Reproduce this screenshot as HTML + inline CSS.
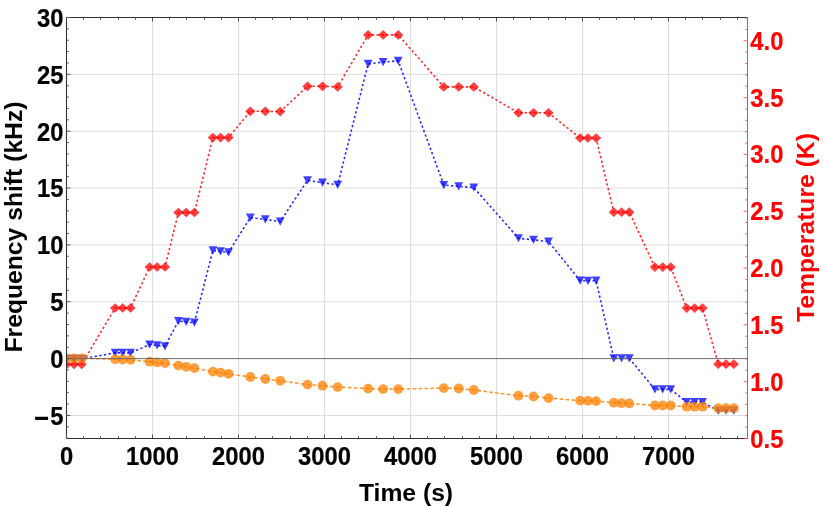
<!DOCTYPE html><html><head><meta charset="utf-8"><style>html,body{margin:0;padding:0;background:#fff}svg{display:block}text{font-family:"Liberation Sans",sans-serif;font-weight:bold}</style></head><body>
<svg width="830" height="506" viewBox="0 0 830 506">
<rect width="830" height="506" fill="#fff"/>
<path d="M152.50 17.5V438.5M238.50 17.5V438.5M324.50 17.5V438.5M410.50 17.5V438.5M496.50 17.5V438.5M582.50 17.5V438.5M668.50 17.5V438.5M66.5 415.45H747.5M66.5 301.75H747.5M66.5 244.90H747.5M66.5 188.05H747.5M66.5 131.20H747.5M66.5 74.35H747.5" stroke="#dedede" stroke-width="1" fill="none"/>
<clipPath id="cp"><rect x="66.5" y="17.5" width="681.0" height="421.0"/></clipPath><g clip-path="url(#cp)">
<path d="M66.60 364.30L74.10 364.30L81.70 364.30L115.10 308.00L122.60 308.00L130.50 308.00L149.60 267.00L157.10 267.00L165.00 267.00L178.40 212.50L186.20 212.50L194.40 212.50L212.90 137.60L220.50 137.60L228.50 137.60L250.30 111.30L265.30 111.30L280.20 111.60L307.50 86.30L322.50 86.30L337.70 86.90L368.10 34.90L383.10 34.90L398.20 34.90L443.80 86.90L458.70 86.90L473.80 86.90L518.50 112.80L533.50 112.80L548.50 112.80L580.10 138.00L587.90 138.00L596.10 138.00L613.80 212.20L621.60 212.20L629.30 212.20L654.90 267.10L662.70 267.10L670.70 267.10L686.70 308.10L694.60 308.10L702.50 308.10L718.30 364.20L726.00 364.20L733.80 364.20" stroke="#ff2a2a" stroke-width="1.6" stroke-dasharray="2.3 2.4" fill="none" stroke-linejoin="round"/>
<g fill="#ff0000" fill-opacity="0.75">
<path d="M61.45 364.30L66.60 359.45L71.75 364.30L66.60 369.15Z"/>
<path d="M68.95 364.30L74.10 359.45L79.25 364.30L74.10 369.15Z"/>
<path d="M76.55 364.30L81.70 359.45L86.85 364.30L81.70 369.15Z"/>
<path d="M109.95 308.00L115.10 303.15L120.25 308.00L115.10 312.85Z"/>
<path d="M117.45 308.00L122.60 303.15L127.75 308.00L122.60 312.85Z"/>
<path d="M125.35 308.00L130.50 303.15L135.65 308.00L130.50 312.85Z"/>
<path d="M144.45 267.00L149.60 262.15L154.75 267.00L149.60 271.85Z"/>
<path d="M151.95 267.00L157.10 262.15L162.25 267.00L157.10 271.85Z"/>
<path d="M159.85 267.00L165.00 262.15L170.15 267.00L165.00 271.85Z"/>
<path d="M173.25 212.50L178.40 207.65L183.55 212.50L178.40 217.35Z"/>
<path d="M181.05 212.50L186.20 207.65L191.35 212.50L186.20 217.35Z"/>
<path d="M189.25 212.50L194.40 207.65L199.55 212.50L194.40 217.35Z"/>
<path d="M207.75 137.60L212.90 132.75L218.05 137.60L212.90 142.45Z"/>
<path d="M215.35 137.60L220.50 132.75L225.65 137.60L220.50 142.45Z"/>
<path d="M223.35 137.60L228.50 132.75L233.65 137.60L228.50 142.45Z"/>
<path d="M245.15 111.30L250.30 106.45L255.45 111.30L250.30 116.15Z"/>
<path d="M260.15 111.30L265.30 106.45L270.45 111.30L265.30 116.15Z"/>
<path d="M275.05 111.60L280.20 106.75L285.35 111.60L280.20 116.45Z"/>
<path d="M302.35 86.30L307.50 81.45L312.65 86.30L307.50 91.15Z"/>
<path d="M317.35 86.30L322.50 81.45L327.65 86.30L322.50 91.15Z"/>
<path d="M332.55 86.90L337.70 82.05L342.85 86.90L337.70 91.75Z"/>
<path d="M362.95 34.90L368.10 30.05L373.25 34.90L368.10 39.75Z"/>
<path d="M377.95 34.90L383.10 30.05L388.25 34.90L383.10 39.75Z"/>
<path d="M393.05 34.90L398.20 30.05L403.35 34.90L398.20 39.75Z"/>
<path d="M438.65 86.90L443.80 82.05L448.95 86.90L443.80 91.75Z"/>
<path d="M453.55 86.90L458.70 82.05L463.85 86.90L458.70 91.75Z"/>
<path d="M468.65 86.90L473.80 82.05L478.95 86.90L473.80 91.75Z"/>
<path d="M513.35 112.80L518.50 107.95L523.65 112.80L518.50 117.65Z"/>
<path d="M528.35 112.80L533.50 107.95L538.65 112.80L533.50 117.65Z"/>
<path d="M543.35 112.80L548.50 107.95L553.65 112.80L548.50 117.65Z"/>
<path d="M574.95 138.00L580.10 133.15L585.25 138.00L580.10 142.85Z"/>
<path d="M582.75 138.00L587.90 133.15L593.05 138.00L587.90 142.85Z"/>
<path d="M590.95 138.00L596.10 133.15L601.25 138.00L596.10 142.85Z"/>
<path d="M608.65 212.20L613.80 207.35L618.95 212.20L613.80 217.05Z"/>
<path d="M616.45 212.20L621.60 207.35L626.75 212.20L621.60 217.05Z"/>
<path d="M624.15 212.20L629.30 207.35L634.45 212.20L629.30 217.05Z"/>
<path d="M649.75 267.10L654.90 262.25L660.05 267.10L654.90 271.95Z"/>
<path d="M657.55 267.10L662.70 262.25L667.85 267.10L662.70 271.95Z"/>
<path d="M665.55 267.10L670.70 262.25L675.85 267.10L670.70 271.95Z"/>
<path d="M681.55 308.10L686.70 303.25L691.85 308.10L686.70 312.95Z"/>
<path d="M689.45 308.10L694.60 303.25L699.75 308.10L694.60 312.95Z"/>
<path d="M697.35 308.10L702.50 303.25L707.65 308.10L702.50 312.95Z"/>
<path d="M713.15 364.20L718.30 359.35L723.45 364.20L718.30 369.05Z"/>
<path d="M720.85 364.20L726.00 359.35L731.15 364.20L726.00 369.05Z"/>
<path d="M728.65 364.20L733.80 359.35L738.95 364.20L733.80 369.05Z"/>
</g>
<path d="M66.60 358.80L74.10 358.80L81.70 358.80L115.10 352.85L122.60 352.85L130.50 352.95L149.60 344.55L157.10 345.45L165.00 346.35L178.40 321.05L186.20 321.95L194.40 322.65L212.90 250.45L220.50 251.45L228.50 252.45L250.30 217.55L265.30 219.45L280.20 221.55L307.50 180.35L322.50 182.65L337.70 184.85L368.10 63.95L383.10 62.05L398.20 60.85L443.80 185.05L458.70 186.35L473.80 187.65L518.50 238.25L533.50 239.85L548.50 241.55L580.10 280.65L587.90 280.85L596.10 280.65L613.80 358.35L621.60 358.45L629.30 358.35L654.90 389.35L662.70 389.35L670.70 389.35L686.70 402.15L694.60 402.15L702.50 402.15L718.30 410.65L726.00 410.65L733.80 410.65" stroke="#2a2aff" stroke-width="1.6" stroke-dasharray="2.3 2.4" fill="none" stroke-linejoin="round"/>
<g fill="#0000ff" fill-opacity="0.75">
<path d="M62.20 354.70L71.00 354.70L66.60 362.90Z"/>
<path d="M69.70 354.70L78.50 354.70L74.10 362.90Z"/>
<path d="M77.30 354.70L86.10 354.70L81.70 362.90Z"/>
<path d="M110.70 348.75L119.50 348.75L115.10 356.95Z"/>
<path d="M118.20 348.75L127.00 348.75L122.60 356.95Z"/>
<path d="M126.10 348.85L134.90 348.85L130.50 357.05Z"/>
<path d="M145.20 340.45L154.00 340.45L149.60 348.65Z"/>
<path d="M152.70 341.35L161.50 341.35L157.10 349.55Z"/>
<path d="M160.60 342.25L169.40 342.25L165.00 350.45Z"/>
<path d="M174.00 316.95L182.80 316.95L178.40 325.15Z"/>
<path d="M181.80 317.85L190.60 317.85L186.20 326.05Z"/>
<path d="M190.00 318.55L198.80 318.55L194.40 326.75Z"/>
<path d="M208.50 246.35L217.30 246.35L212.90 254.55Z"/>
<path d="M216.10 247.35L224.90 247.35L220.50 255.55Z"/>
<path d="M224.10 248.35L232.90 248.35L228.50 256.55Z"/>
<path d="M245.90 213.45L254.70 213.45L250.30 221.65Z"/>
<path d="M260.90 215.35L269.70 215.35L265.30 223.55Z"/>
<path d="M275.80 217.45L284.60 217.45L280.20 225.65Z"/>
<path d="M303.10 176.25L311.90 176.25L307.50 184.45Z"/>
<path d="M318.10 178.55L326.90 178.55L322.50 186.75Z"/>
<path d="M333.30 180.75L342.10 180.75L337.70 188.95Z"/>
<path d="M363.70 59.85L372.50 59.85L368.10 68.05Z"/>
<path d="M378.70 57.95L387.50 57.95L383.10 66.15Z"/>
<path d="M393.80 56.75L402.60 56.75L398.20 64.95Z"/>
<path d="M439.40 180.95L448.20 180.95L443.80 189.15Z"/>
<path d="M454.30 182.25L463.10 182.25L458.70 190.45Z"/>
<path d="M469.40 183.55L478.20 183.55L473.80 191.75Z"/>
<path d="M514.10 234.15L522.90 234.15L518.50 242.35Z"/>
<path d="M529.10 235.75L537.90 235.75L533.50 243.95Z"/>
<path d="M544.10 237.45L552.90 237.45L548.50 245.65Z"/>
<path d="M575.70 276.55L584.50 276.55L580.10 284.75Z"/>
<path d="M583.50 276.75L592.30 276.75L587.90 284.95Z"/>
<path d="M591.70 276.55L600.50 276.55L596.10 284.75Z"/>
<path d="M609.40 354.25L618.20 354.25L613.80 362.45Z"/>
<path d="M617.20 354.35L626.00 354.35L621.60 362.55Z"/>
<path d="M624.90 354.25L633.70 354.25L629.30 362.45Z"/>
<path d="M650.50 385.25L659.30 385.25L654.90 393.45Z"/>
<path d="M658.30 385.25L667.10 385.25L662.70 393.45Z"/>
<path d="M666.30 385.25L675.10 385.25L670.70 393.45Z"/>
<path d="M682.30 398.05L691.10 398.05L686.70 406.25Z"/>
<path d="M690.20 398.05L699.00 398.05L694.60 406.25Z"/>
<path d="M698.10 398.05L706.90 398.05L702.50 406.25Z"/>
<path d="M713.90 406.55L722.70 406.55L718.30 414.75Z"/>
<path d="M721.60 406.55L730.40 406.55L726.00 414.75Z"/>
<path d="M729.40 406.55L738.20 406.55L733.80 414.75Z"/>
</g>
<path d="M66.60 358.40L74.10 358.40L81.70 358.40L115.10 359.20L122.60 359.50L130.50 359.80L149.60 361.70L157.10 362.40L165.00 363.10L178.40 365.60L186.20 366.80L194.40 368.10L212.90 371.60L220.50 372.60L228.50 373.80L250.30 377.00L265.30 379.00L280.20 380.80L307.50 384.60L322.50 385.70L337.70 387.10L368.10 388.60L383.10 389.10L398.20 389.10L443.80 388.10L458.70 388.50L473.80 390.00L518.50 395.70L533.50 396.50L548.50 398.10L580.10 400.60L587.90 400.90L596.10 401.10L613.80 402.70L621.60 403.20L629.30 403.50L654.90 405.50L662.70 405.50L670.70 405.50L686.70 406.70L694.60 406.70L702.50 406.70L718.30 408.20L726.00 408.20L733.80 408.20" stroke="#ff9326" stroke-width="1.5" stroke-dasharray="3.6 2.3" fill="none" stroke-linejoin="round"/>
<g fill="#ff8000" fill-opacity="0.75">
<circle cx="66.60" cy="358.40" r="4.9"/>
<circle cx="74.10" cy="358.40" r="4.9"/>
<circle cx="81.70" cy="358.40" r="4.9"/>
<circle cx="115.10" cy="359.20" r="4.9"/>
<circle cx="122.60" cy="359.50" r="4.9"/>
<circle cx="130.50" cy="359.80" r="4.9"/>
<circle cx="149.60" cy="361.70" r="4.9"/>
<circle cx="157.10" cy="362.40" r="4.9"/>
<circle cx="165.00" cy="363.10" r="4.9"/>
<circle cx="178.40" cy="365.60" r="4.9"/>
<circle cx="186.20" cy="366.80" r="4.9"/>
<circle cx="194.40" cy="368.10" r="4.9"/>
<circle cx="212.90" cy="371.60" r="4.9"/>
<circle cx="220.50" cy="372.60" r="4.9"/>
<circle cx="228.50" cy="373.80" r="4.9"/>
<circle cx="250.30" cy="377.00" r="4.9"/>
<circle cx="265.30" cy="379.00" r="4.9"/>
<circle cx="280.20" cy="380.80" r="4.9"/>
<circle cx="307.50" cy="384.60" r="4.9"/>
<circle cx="322.50" cy="385.70" r="4.9"/>
<circle cx="337.70" cy="387.10" r="4.9"/>
<circle cx="368.10" cy="388.60" r="4.9"/>
<circle cx="383.10" cy="389.10" r="4.9"/>
<circle cx="398.20" cy="389.10" r="4.9"/>
<circle cx="443.80" cy="388.10" r="4.9"/>
<circle cx="458.70" cy="388.50" r="4.9"/>
<circle cx="473.80" cy="390.00" r="4.9"/>
<circle cx="518.50" cy="395.70" r="4.9"/>
<circle cx="533.50" cy="396.50" r="4.9"/>
<circle cx="548.50" cy="398.10" r="4.9"/>
<circle cx="580.10" cy="400.60" r="4.9"/>
<circle cx="587.90" cy="400.90" r="4.9"/>
<circle cx="596.10" cy="401.10" r="4.9"/>
<circle cx="613.80" cy="402.70" r="4.9"/>
<circle cx="621.60" cy="403.20" r="4.9"/>
<circle cx="629.30" cy="403.50" r="4.9"/>
<circle cx="654.90" cy="405.50" r="4.9"/>
<circle cx="662.70" cy="405.50" r="4.9"/>
<circle cx="670.70" cy="405.50" r="4.9"/>
<circle cx="686.70" cy="406.70" r="4.9"/>
<circle cx="694.60" cy="406.70" r="4.9"/>
<circle cx="702.50" cy="406.70" r="4.9"/>
<circle cx="718.30" cy="408.20" r="4.9"/>
<circle cx="726.00" cy="408.20" r="4.9"/>
<circle cx="733.80" cy="408.20" r="4.9"/>
</g>
</g>
<path d="M66.5 358.60H747.5" stroke="#666" stroke-width="0.95" fill="none"/>
<path d="M66.5 438.5V17.5H747.5" stroke="#333" stroke-width="1.1" fill="none"/>
<path d="M66.5 438.5H747.5" stroke="#333" stroke-width="1.1" fill="none"/>
<path d="M747.5 17.5V438.5" stroke="#ff4040" stroke-width="1" fill="none"/>
<path d="M66.50 438.5v-4M66.50 17.5v4M83.50 438.5v-2.3M83.50 17.5v2.3M100.50 438.5v-2.3M100.50 17.5v2.3M118.50 438.5v-2.3M118.50 17.5v2.3M135.50 438.5v-2.3M135.50 17.5v2.3M152.50 438.5v-4M152.50 17.5v4M169.50 438.5v-2.3M169.50 17.5v2.3M186.50 438.5v-2.3M186.50 17.5v2.3M204.50 438.5v-2.3M204.50 17.5v2.3M221.50 438.5v-2.3M221.50 17.5v2.3M238.50 438.5v-4M238.50 17.5v4M255.50 438.5v-2.3M255.50 17.5v2.3M272.50 438.5v-2.3M272.50 17.5v2.3M290.50 438.5v-2.3M290.50 17.5v2.3M307.50 438.5v-2.3M307.50 17.5v2.3M324.50 438.5v-4M324.50 17.5v4M341.50 438.5v-2.3M341.50 17.5v2.3M358.50 438.5v-2.3M358.50 17.5v2.3M376.50 438.5v-2.3M376.50 17.5v2.3M393.50 438.5v-2.3M393.50 17.5v2.3M410.50 438.5v-4M410.50 17.5v4M427.50 438.5v-2.3M427.50 17.5v2.3M444.50 438.5v-2.3M444.50 17.5v2.3M462.50 438.5v-2.3M462.50 17.5v2.3M479.50 438.5v-2.3M479.50 17.5v2.3M496.50 438.5v-4M496.50 17.5v4M513.50 438.5v-2.3M513.50 17.5v2.3M530.50 438.5v-2.3M530.50 17.5v2.3M548.50 438.5v-2.3M548.50 17.5v2.3M565.50 438.5v-2.3M565.50 17.5v2.3M582.50 438.5v-4M582.50 17.5v4M599.50 438.5v-2.3M599.50 17.5v2.3M616.50 438.5v-2.3M616.50 17.5v2.3M634.50 438.5v-2.3M634.50 17.5v2.3M651.50 438.5v-2.3M651.50 17.5v2.3M668.50 438.5v-4M668.50 17.5v4M685.50 438.5v-2.3M685.50 17.5v2.3M702.50 438.5v-2.3M702.50 17.5v2.3M720.50 438.5v-2.3M720.50 17.5v2.3M737.50 438.5v-2.3M737.50 17.5v2.3M66.5 438.19h2.3M66.5 426.82h2.3M66.5 415.45h4M66.5 404.08h2.3M66.5 392.71h2.3M66.5 381.34h2.3M66.5 369.97h2.3M66.5 358.60h4M66.5 347.23h2.3M66.5 335.86h2.3M66.5 324.49h2.3M66.5 313.12h2.3M66.5 301.75h4M66.5 290.38h2.3M66.5 279.01h2.3M66.5 267.64h2.3M66.5 256.27h2.3M66.5 244.90h4M66.5 233.53h2.3M66.5 222.16h2.3M66.5 210.79h2.3M66.5 199.42h2.3M66.5 188.05h4M66.5 176.68h2.3M66.5 165.31h2.3M66.5 153.94h2.3M66.5 142.57h2.3M66.5 131.20h4M66.5 119.83h2.3M66.5 108.46h2.3M66.5 97.09h2.3M66.5 85.72h2.3M66.5 74.35h4M66.5 62.98h2.3M66.5 51.61h2.3M66.5 40.24h2.3M66.5 28.87h2.3M66.5 17.50h4" stroke="#555" stroke-width="1" fill="none"/>
<path d="M747.5 438.50h-4M747.5 427.14h-2.3M747.5 415.77h-2.3M747.5 404.41h-2.3M747.5 393.05h-2.3M747.5 381.69h-4M747.5 370.32h-2.3M747.5 358.96h-2.3M747.5 347.60h-2.3M747.5 336.23h-2.3M747.5 324.87h-4M747.5 313.51h-2.3M747.5 302.14h-2.3M747.5 290.78h-2.3M747.5 279.42h-2.3M747.5 268.05h-4M747.5 256.69h-2.3M747.5 245.33h-2.3M747.5 233.97h-2.3M747.5 222.60h-2.3M747.5 211.24h-4M747.5 199.88h-2.3M747.5 188.51h-2.3M747.5 177.15h-2.3M747.5 165.79h-2.3M747.5 154.42h-4M747.5 143.06h-2.3M747.5 131.70h-2.3M747.5 120.34h-2.3M747.5 108.97h-2.3M747.5 97.61h-4M747.5 86.25h-2.3M747.5 74.88h-2.3M747.5 63.52h-2.3M747.5 52.16h-2.3M747.5 40.79h-4M747.5 29.43h-2.3M747.5 18.07h-2.3" stroke="#ff4040" stroke-width="0.8" fill="none"/>
<g opacity="0.995">
<text transform="translate(66.50,465.20) scale(0.93,1)" font-size="25.6" text-anchor="middle" fill="#000" stroke="#000" stroke-width="0.25">0</text>
<text transform="translate(152.50,465.20) scale(0.93,1)" font-size="25.6" text-anchor="middle" fill="#000" stroke="#000" stroke-width="0.25">1000</text>
<text transform="translate(238.50,465.20) scale(0.93,1)" font-size="25.6" text-anchor="middle" fill="#000" stroke="#000" stroke-width="0.25">2000</text>
<text transform="translate(324.50,465.20) scale(0.93,1)" font-size="25.6" text-anchor="middle" fill="#000" stroke="#000" stroke-width="0.25">3000</text>
<text transform="translate(410.50,465.20) scale(0.93,1)" font-size="25.6" text-anchor="middle" fill="#000" stroke="#000" stroke-width="0.25">4000</text>
<text transform="translate(496.50,465.20) scale(0.93,1)" font-size="25.6" text-anchor="middle" fill="#000" stroke="#000" stroke-width="0.25">5000</text>
<text transform="translate(582.50,465.20) scale(0.93,1)" font-size="25.6" text-anchor="middle" fill="#000" stroke="#000" stroke-width="0.25">6000</text>
<text transform="translate(668.50,465.20) scale(0.93,1)" font-size="25.6" text-anchor="middle" fill="#000" stroke="#000" stroke-width="0.25">7000</text>
<text transform="translate(63.50,424.85) scale(0.93,1)" font-size="25.6" text-anchor="end" fill="#000" stroke="#000" stroke-width="0.25">5</text>
<rect x="35.1" y="416.75" width="13" height="3.2" fill="#000"/>
<text transform="translate(63.50,368.00) scale(0.93,1)" font-size="25.6" text-anchor="end" fill="#000" stroke="#000" stroke-width="0.25">0</text>
<text transform="translate(63.50,311.15) scale(0.93,1)" font-size="25.6" text-anchor="end" fill="#000" stroke="#000" stroke-width="0.25">5</text>
<text transform="translate(63.50,254.30) scale(0.93,1)" font-size="25.6" text-anchor="end" fill="#000" stroke="#000" stroke-width="0.25">10</text>
<text transform="translate(63.50,197.45) scale(0.93,1)" font-size="25.6" text-anchor="end" fill="#000" stroke="#000" stroke-width="0.25">15</text>
<text transform="translate(63.50,140.60) scale(0.93,1)" font-size="25.6" text-anchor="end" fill="#000" stroke="#000" stroke-width="0.25">20</text>
<text transform="translate(63.50,83.75) scale(0.93,1)" font-size="25.6" text-anchor="end" fill="#000" stroke="#000" stroke-width="0.25">25</text>
<text transform="translate(63.50,26.90) scale(0.93,1)" font-size="25.6" text-anchor="end" fill="#000" stroke="#000" stroke-width="0.25">30</text>
<text transform="translate(750.30,447.50) scale(0.93,1)" font-size="25.6" text-anchor="start" fill="#ff0000" stroke="#ff0000" stroke-width="0.25">0.5</text>
<text transform="translate(750.30,390.69) scale(0.93,1)" font-size="25.6" text-anchor="start" fill="#ff0000" stroke="#ff0000" stroke-width="0.25">1.0</text>
<text transform="translate(750.30,333.87) scale(0.93,1)" font-size="25.6" text-anchor="start" fill="#ff0000" stroke="#ff0000" stroke-width="0.25">1.5</text>
<text transform="translate(750.30,277.06) scale(0.93,1)" font-size="25.6" text-anchor="start" fill="#ff0000" stroke="#ff0000" stroke-width="0.25">2.0</text>
<text transform="translate(750.30,220.24) scale(0.93,1)" font-size="25.6" text-anchor="start" fill="#ff0000" stroke="#ff0000" stroke-width="0.25">2.5</text>
<text transform="translate(750.30,163.43) scale(0.93,1)" font-size="25.6" text-anchor="start" fill="#ff0000" stroke="#ff0000" stroke-width="0.25">3.0</text>
<text transform="translate(750.30,106.61) scale(0.93,1)" font-size="25.6" text-anchor="start" fill="#ff0000" stroke="#ff0000" stroke-width="0.25">3.5</text>
<text transform="translate(750.30,49.80) scale(0.93,1)" font-size="25.6" text-anchor="start" fill="#ff0000" stroke="#ff0000" stroke-width="0.25">4.0</text>
<text x="406" y="500.7" font-size="24.7" text-anchor="middle" fill="#000">Time (s)</text>
<text transform="translate(22.0,227) rotate(-90)" font-size="24.7" text-anchor="middle" fill="#000">Frequency shift (kHz)</text>
<text transform="translate(814,227.5) rotate(-90)" font-size="24.7" text-anchor="middle" fill="#ff0000">Temperature (K)</text>
</g>
</svg></body></html>
